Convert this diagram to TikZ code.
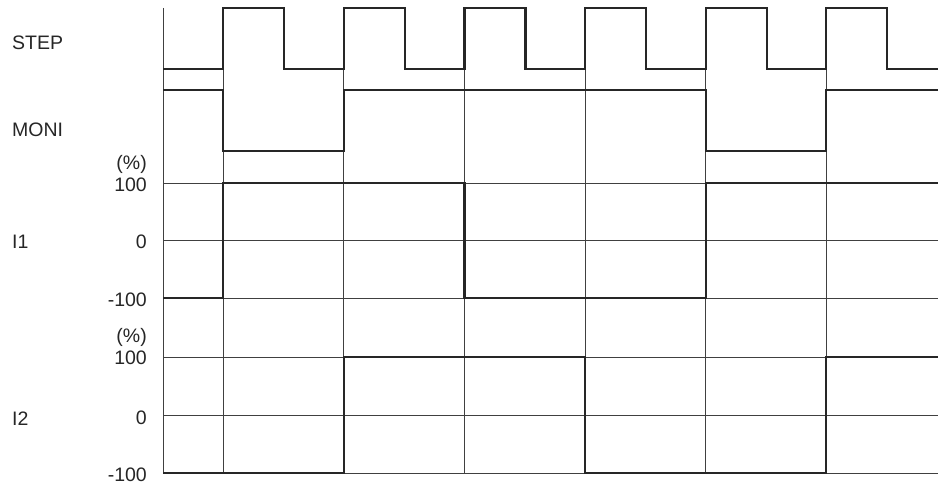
\documentclass[tikz,border=0pt]{standalone}
\usepackage{fontspec}
\setmainfont{Liberation Sans}
\usetikzlibrary{positioning}

\begin{document}
\begin{tikzpicture}[
    x=1pt, y=-1pt,
    font=\fontsize{19.5}{23}\selectfont,
    gridline/.style={line width=0.9pt, black!75},
    sig/.style={line width=2.2pt, black!85, line join=miter},
    lbl/.style={anchor=west, inner sep=0pt, text=black!85},
    tck/.style={anchor=east, inner sep=0pt, text=black!85}
  ]
    \useasboundingbox (0,0) rectangle (938,489);

    % --- GRID ---
    \draw[gridline] (163,8) -- (163,473);
    \foreach \x in {223.3,343.9,464.5,585.1,705.7,826.3}
        \draw[gridline] (\x,69) -- (\x,473);
    \foreach \y in {183,240,298,357,415,473}
        \draw[gridline] (163,\y) -- (938,\y);

    % --- SIGNALS ---
    % STEP
    \draw[sig] (163,69)
        \foreach \x in {223.3,343.9,464.5,585.1,705.7,826.3} {
            -- (\x,69) -- (\x,8) -- (\x+61,8) -- (\x+61,69)
        } -- (938,69);
    % MONI
    \draw[sig] (163,90) -- (223.3,90) -- (223.3,151) -- (343.9,151) -- (343.9,90)
        -- (705.7,90) -- (705.7,151) -- (826.3,151) -- (826.3,90) -- (938,90);
    % I1
    \draw[sig] (163,298) -- (223.3,298) -- (223.3,183) -- (464.5,183) -- (464.5,298)
        -- (705.7,298) -- (705.7,183) -- (938,183);
    % I2
    \draw[sig] (163,473) -- (343.9,473) -- (343.9,357) -- (585.1,357) -- (585.1,473)
        -- (826.3,473) -- (826.3,357) -- (938,357);

    % --- LABELS ---
    \node[lbl] (step) at (12,43)  {STEP};
    \node[lbl] (moni) at (12,130) {MONI};
    \node[lbl] (ione) at (12,242) {I1};
    \node[lbl] (itwo) at (12,419) {I2};

    % I1 scale
    \node[tck] (ionepct) at (147,164) {(\%)};
    \node[tck] (ionehi)  at (147,185) {100};
    \node[tck] (ionemid) at (147,242) {0};
    \node[tck] (ionelo)  at (147,300) {-100};
    % I2 scale
    \node[tck] (itwopct) at (147,337) {(\%)};
    \node[tck] (itwohi)  at (147,358) {100};
    \node[tck] (itwomid) at (147,418) {0};
    \node[tck] (itwolo)  at (147,475) {-100};
\end{tikzpicture}
\end{document}
